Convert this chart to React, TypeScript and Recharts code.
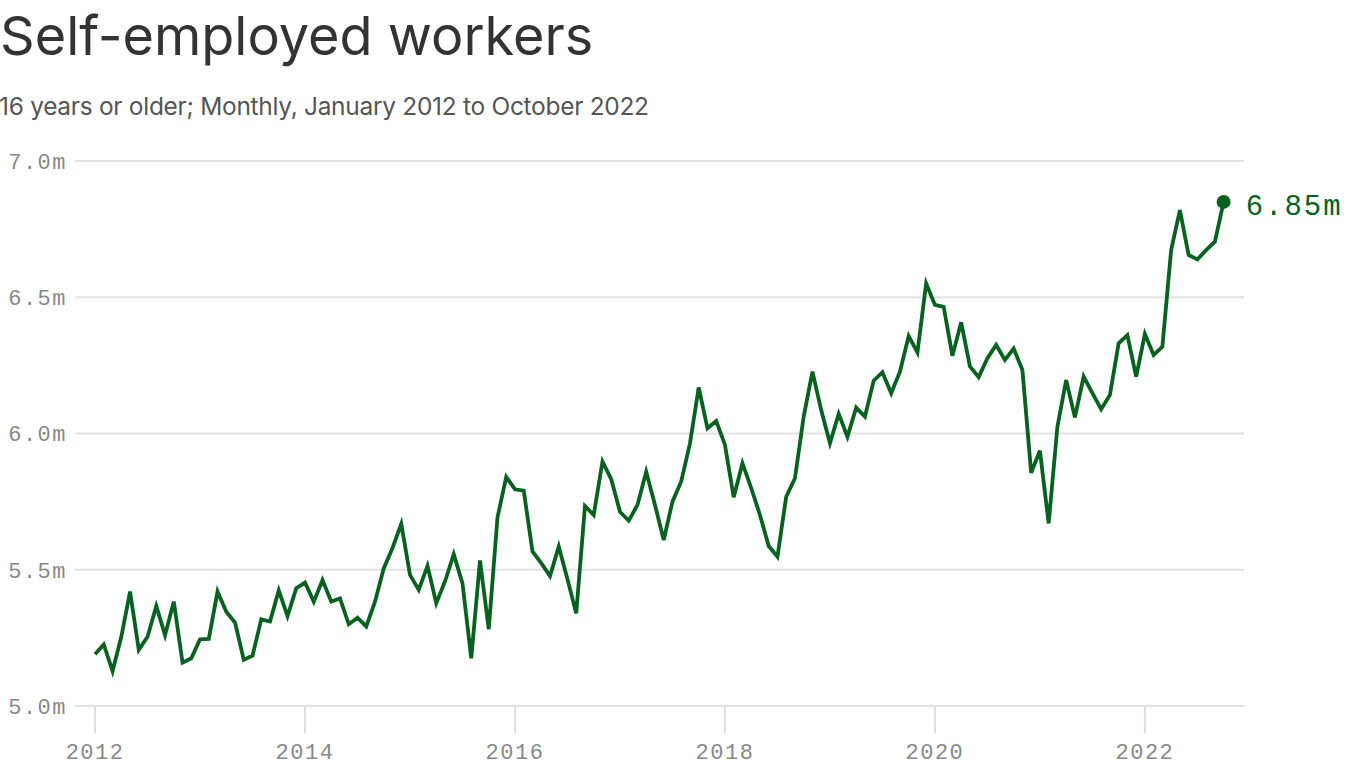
import { LineChart, Line, XAxis, YAxis, CartesianGrid } from "recharts";

// Self-employed workers, millions, monthly Jan 2012 - Oct 2022
const START_YEAR = 2012;
const y2012 = [5.19, 5.226, 5.128, 5.254, 5.42, 5.206, 5.254, 5.367, 5.26, 5.383, 5.159, 5.175];
const y2013 = [5.245, 5.246, 5.42, 5.346, 5.306, 5.17, 5.185, 5.318, 5.31, 5.424, 5.33, 5.432];
const y2014 = [5.453, 5.383, 5.462, 5.383, 5.395, 5.3, 5.324, 5.292, 5.383, 5.505, 5.58, 5.668];
const y2015 = [5.481, 5.426, 5.514, 5.377, 5.457, 5.557, 5.45, 5.175, 5.534, 5.282, 5.692, 5.841];
const y2016 = [5.795, 5.79, 5.567, 5.524, 5.477, 5.585, 5.465, 5.34, 5.734, 5.701, 5.897, 5.832];
const y2017 = [5.713, 5.68, 5.738, 5.86, 5.738, 5.609, 5.75, 5.824, 5.964, 6.169, 6.019, 6.046];
const y2018 = [5.958, 5.766, 5.891, 5.8, 5.701, 5.587, 5.548, 5.768, 5.836, 6.062, 6.227, 6.086];
const y2019 = [5.964, 6.072, 5.988, 6.095, 6.062, 6.194, 6.225, 6.148, 6.227, 6.358, 6.297, 6.551];
const y2020 = [6.472, 6.465, 6.285, 6.408, 6.246, 6.207, 6.276, 6.325, 6.27, 6.312, 6.233, 5.856];
const y2021 = [5.937, 5.67, 6.025, 6.196, 6.059, 6.209, 6.148, 6.089, 6.141, 6.331, 6.361, 6.209];
const y2022 = [6.365, 6.288, 6.319, 6.673, 6.82, 6.655, 6.639, 6.673, 6.704, 6.85];

const years = [y2012, y2013, y2014, y2015, y2016, y2017, y2018, y2019, y2020, y2021, y2022];
const xTicks = [2012, 2014, 2016, 2018, 2020, 2022];
const yTicks = [5.0, 5.5, 6.0, 6.5, 7.0];

const data = years.flatMap((vals, yi) =>
  vals.map((v, m) => ({ t: START_YEAR + yi + m / 12, value: v }))
);

const GREEN = "#07621f";
const MONO = "'Liberation Mono', 'DejaVu Sans Mono', monospace";

const EndDot = (props: any) => {
  const { cx, cy, index } = props;
  if (index !== data.length - 1) return null;
  return (
    <g key="end">
      <circle cx={cx} cy={cy} r={7} fill={GREEN} />
      <text x={cx + 22} y={cy + 3} dy="0.36em" fill={GREEN} fontSize={29} fontFamily={MONO} letterSpacing={2}>
        {data[index].value.toFixed(2)}m
      </text>
    </g>
  );
};

export default function App() {
  return (
    <div style={{ position: "absolute", left: 0, top: 0, width: 1366, height: 768, background: "#fff", overflow: "hidden" }}>
      <div style={{ position: "absolute", left: 0, top: 9, fontFamily: "Inter, 'Noto Sans', sans-serif", fontSize: 54, lineHeight: 1, color: "#333", letterSpacing: 0, whiteSpace: "nowrap" }}>
        Self-employed workers
      </div>
      <div style={{ position: "absolute", left: -1, top: 94, fontFamily: "Inter, 'Noto Sans', sans-serif", fontSize: 24.5, lineHeight: 1, color: "#555", letterSpacing: -0.3, whiteSpace: "nowrap" }}>
        16 years or older; Monthly, January 2012 to October 2022
      </div>
      <LineChart width={1366} height={768} data={data} margin={{ top: 161, right: 122, bottom: 0, left: 0 }}>
        <CartesianGrid vertical={false} stroke="#e2e2e2" strokeWidth={2} />
        <XAxis
          dataKey="t"
          type="number"
          domain={[2011.809, 2022.944]}
          ticks={xTicks}
          axisLine={false}
          tickSize={27}
          tickMargin={10}
          tickLine={{ stroke: "#dedede", strokeWidth: 2 }}
          height={62}
          tick={{ fontSize: 22, fill: "#888", fontFamily: MONO, letterSpacing: 1.5 }}
        />
        <YAxis
          type="number"
          domain={[5, 7]}
          ticks={yTicks}
          width={75}
          axisLine={false}
          tickLine={false}
          tickSize={6}
          tickMargin={2}
          tickFormatter={(v: number) => v.toFixed(1) + "m"}
          tick={{ fontSize: 22, fill: "#888", fontFamily: MONO, letterSpacing: 1.5 }}
        />
        <Line
          type="linear"
          dataKey="value"
          stroke={GREEN}
          strokeWidth={3.8}
          dot={EndDot}
          activeDot={false}
          isAnimationActive={false}
        />
      </LineChart>
    </div>
  );
}
